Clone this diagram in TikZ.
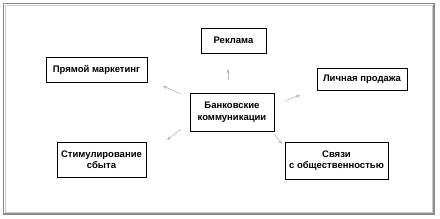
\documentclass[tikz,border=0pt]{standalone}
\usepackage{fontspec}
\setmainfont{Liberation Sans}
\usetikzlibrary{arrows.meta}
\begin{document}
\begin{tikzpicture}[x=1pt,y=-1pt,
  box/.style={draw=black,line width=0.9pt,fill=white,inner sep=0pt,align=center,
    font=\fontsize{9.5}{11.5}\selectfont\bfseries},
  arr/.style={draw=black!28,line width=0.6pt,-{Stealth[length=4pt,width=3.5pt]}}]
\useasboundingbox (0,0) rectangle (440,219);
\draw[black!45,line width=1.6pt] (3.5,3.5) rectangle (434,214);
\draw[black!20,line width=0.5pt] (5,5) rectangle (432.5,212.5);
\node[box,minimum width=84pt,minimum height=38pt] (c) at (232,112) {Банковские\\коммуникации};
\node[box,minimum width=65pt,minimum height=25pt] (rek) at (233.5,40.5) {Реклама};
\node[box,minimum width=101pt,minimum height=25pt] (pm) at (96.5,69.5) {Прямой маркетинг};
\node[box,minimum width=90pt,minimum height=22pt] (lp) at (362,79) {Личная продажа};
\node[box,minimum width=89pt,minimum height=35pt] (ss) at (101.5,159.5) {Стимулирование\\сбыта};
\node[box,minimum width=103pt,minimum height=37pt] (so) at (336.5,160.5) {Связи\\с общественностью};
\coordinate (a1s) at (181,94); \coordinate (a1e) at (163,86);
\coordinate (a2s) at (228,80); \coordinate (a2e) at (228,69);
\coordinate (a3s) at (285,101); \coordinate (a3e) at (300,95);
\coordinate (a4s) at (181,129); \coordinate (a4e) at (167,140);
\coordinate (a5s) at (274,134); \coordinate (a5e) at (282,144);
\draw[arr] (a1s) -- (a1e);
\draw[arr] (a2s) -- (a2e);
\draw[arr] (a3s) -- (a3e);
\draw[arr] (a4s) -- (a4e);
\draw[arr] (a5s) -- (a5e);
\end{tikzpicture}
\end{document}
